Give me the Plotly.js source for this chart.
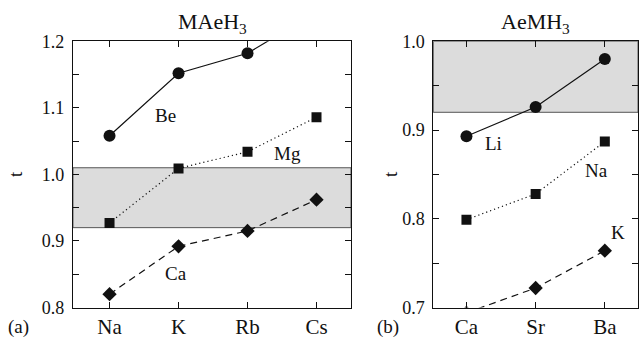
<!DOCTYPE html>
<html>
<head>
<meta charset="utf-8">
<script src="https://cdn.plot.ly/plotly-3.0.1.min.js"></script>
<style>html,body{margin:0;padding:0;background:#fff;}#chart{width:639px;height:338px;}</style>
</head>
<body>
<div id="chart"></div>
<script>
// ---- Data: panel (a) MAeH3 ----
var catsA = ['Na', 'K', 'Rb', 'Cs'];
var beVals = [1.058, 1.152, 1.182, 1.244];
var mgVals = [0.927, 1.009, 1.034, 1.086];
var caVals = [0.820, 0.892, 0.915, 0.962];
var bandA = [0.92, 1.01];

// ---- Data: panel (b) AeMH3 ----
var catsB = ['Ca', 'Sr', 'Ba'];
var liVals = [0.893, 0.926, 0.980];
var naVals = [0.799, 0.828, 0.887];
var kVals = [0.694, 0.722, 0.764];
var bandB = [0.92, 1.0];

// ---- Tick labels ----
var yTickValsA = [0.8, 0.9, 1.0, 1.1, 1.2];
var yTickTextA = ['0.8', '0.9', '1.0', '1.1', '1.2'];
var yTickValsB = [0.7, 0.8, 0.9, 1.0];
var yTickTextB = ['0.7', '0.8', '0.9', '1.0'];

var FONT = "'Liberation Serif', 'Times New Roman', Times, serif";
var INK = '#111';

function series(x, y, xa, ya, sym, size, dash) {
  return {
    x: x, y: y, xaxis: xa, yaxis: ya, type: 'scatter', mode: 'lines+markers',
    cliponaxis: true,
    line: {color: INK, width: 1.2, dash: dash},
    marker: {symbol: sym, size: size, color: INK},
    showlegend: false, hoverinfo: 'skip'
  };
}

var data = [
  series(catsA, beVals, 'x', 'y', 'circle', 12, 'solid'),
  series(catsA, mgVals, 'x', 'y', 'square', 10, '1.2px,3px'),
  series(catsA, caVals, 'x', 'y', 'diamond', 11, '7px,5px'),
  series(catsB, liVals, 'x2', 'y2', 'circle', 12, 'solid'),
  series(catsB, naVals, 'x2', 'y2', 'square', 10, '1.2px,3px'),
  series(catsB, kVals, 'x2', 'y2', 'diamond', 11, '7px,5px')
];

function xax(domain, range, anchor) {
  return {
    domain: domain, anchor: anchor, type: 'category', range: range,
    showline: true, linecolor: INK, linewidth: 1, mirror: 'ticks',
    ticks: 'inside', ticklen: 6, tickcolor: INK, tickwidth: 1,
    showgrid: false, zeroline: false, fixedrange: true,
    tickfont: {family: FONT, size: 21, color: INK}, ticklabelstandoff: 0
  };
}
function yax(domain, range, anchor, tv, tt) {
  return {
    domain: domain, anchor: anchor, range: range,
    tickmode: 'array', tickvals: tv, ticktext: tt,
    minor: {dtick: 0.05, tick0: 0.7, ticks: 'inside', ticklen: 6, tickcolor: INK, tickwidth: 1, showgrid: false},
    showline: true, linecolor: INK, linewidth: 1, mirror: 'ticks',
    ticks: 'inside', ticklen: 6, tickcolor: INK, tickwidth: 1,
    showgrid: false, zeroline: false, fixedrange: true,
    tickfont: {family: FONT, size: 18, color: INK}, ticklabelstandoff: 4
  };
}

var yDom = [0.0902, 0.8778];

function note(text, xref, yref, x, y, size, angle) {
  return {text: text, xref: xref, yref: yref, x: x, y: y, xanchor: 'center', yanchor: 'middle',
          textangle: angle || 0, showarrow: false, font: {family: FONT, size: size, color: INK}};
}

var layout = {
  width: 639, height: 338,
  margin: {l: 0, r: 0, t: 0, b: 0},
  paper_bgcolor: '#fff', plot_bgcolor: '#fff',
  font: {family: FONT, color: INK},
  xaxis: xax([0.1142, 0.5493], [-0.53, 3.5], 'y'),
  yaxis: yax(yDom, [0.8, 1.2], 'x', yTickValsA, yTickTextA),
  xaxis2: xax([0.678, 0.9985], [-0.48, 2.48], 'y2'),
  yaxis2: yax(yDom, [0.7, 1.0], 'x2', yTickValsB, yTickTextB),
  shapes: [
    {type: 'rect', xref: 'x domain', yref: 'y', x0: 0, x1: 1, y0: bandA[0], y1: bandA[1],
     fillcolor: '#dcdcdc', line: {color: '#555', width: 1}, layer: 'below'},
    {type: 'rect', xref: 'x2 domain', yref: 'y2', x0: 0, x1: 1, y0: bandB[0], y1: bandB[1],
     fillcolor: '#dcdcdc', line: {color: '#555', width: 1}, layer: 'below'}
  ],
  annotations: [
    note('MAeH<sub>3</sub>', 'paper', 'paper', 212/639, 1 - 23/338, 22),
    note('AeMH<sub>3</sub>', 'paper', 'paper', 535/639, 1 - 23/338, 22),
    note('t', 'paper', 'paper', 15/639, 1 - 174/338, 19, -90),
    note('t', 'paper', 'paper', 390/639, 1 - 174/338, 19, -90),
    note('(a)', 'paper', 'paper', 18/639, 1 - 327/338, 19),
    note('(b)', 'paper', 'paper', 388/639, 1 - 327/338, 19),
    note('Be', 'x', 'y', 0.81, 1.088, 19),
    note('Mg', 'x', 'y', 2.575, 1.032, 19),
    note('Ca', 'x', 'y', 0.957, 0.851, 19),
    note('Li', 'x2', 'y2', 0.384, 0.885, 19),
    note('Na', 'x2', 'y2', 1.88, 0.854, 19),
    note('K', 'x2', 'y2', 2.19, 0.785, 19)
  ]
};

Plotly.newPlot('chart', data, layout, {displayModeBar: false, staticPlot: true});
</script>
</body>
</html>
